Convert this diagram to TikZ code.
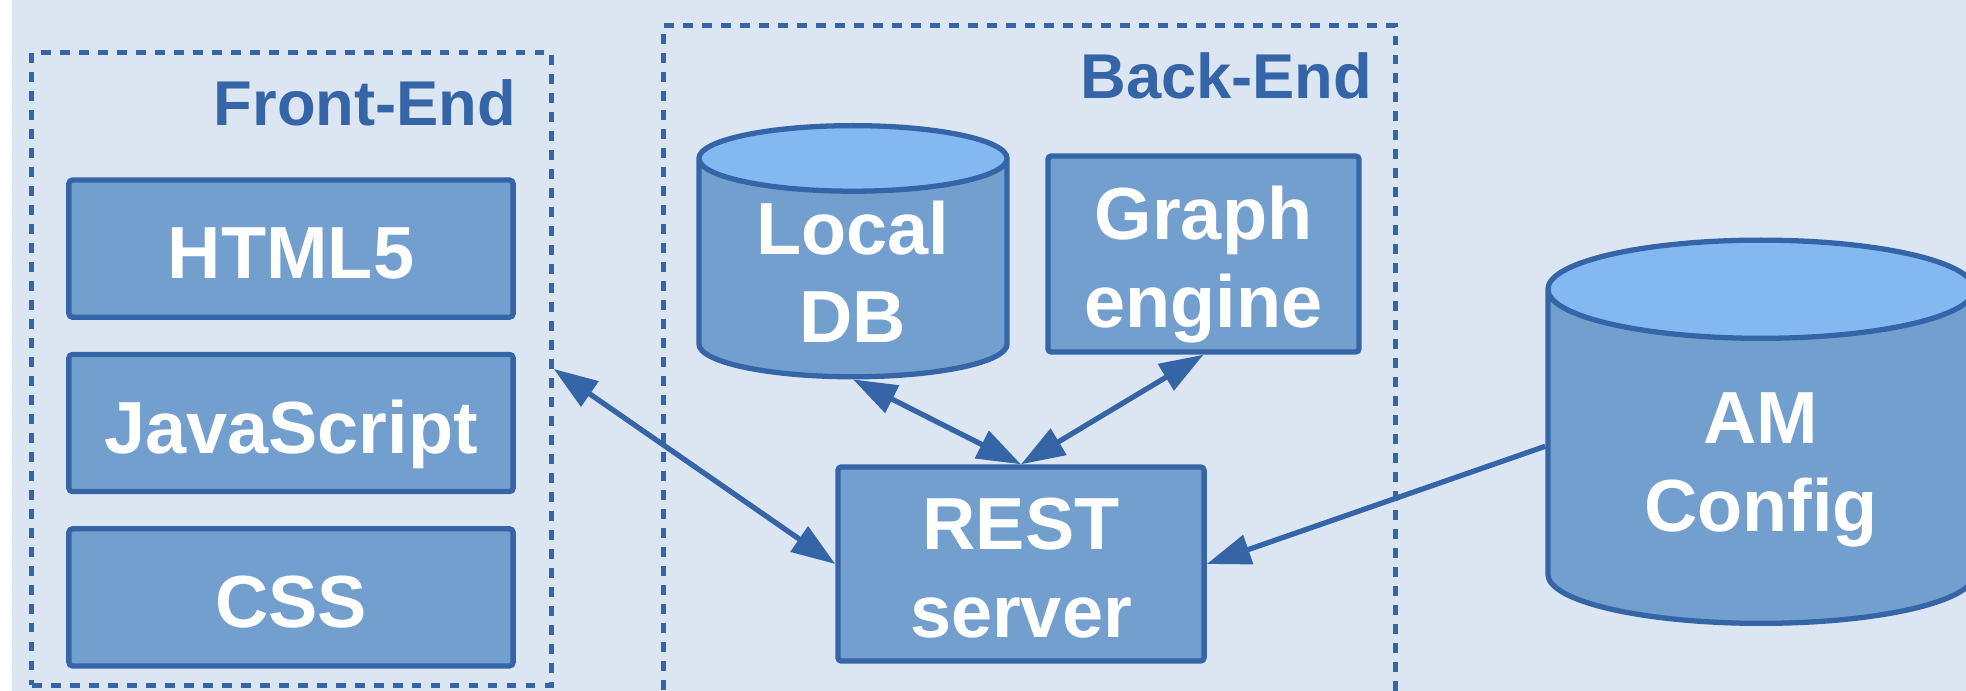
\documentclass[tikz,border=0pt]{standalone}
\usepackage{fontspec}
\setmainfont{Liberation Sans}
\usetikzlibrary{matrix,arrows.meta,shapes.geometric}
\definecolor{pageblue}{RGB}{220,230,242}
\definecolor{boxblue}{RGB}{115,159,207}
\definecolor{edgeblue}{RGB}{53,101,167}
\definecolor{topblue}{RGB}{132,184,240}
\tikzset{
	block/.style={draw=edgeblue, line width=1.5pt, fill=boxblue, text=white, inner sep=0pt, rounded corners=1pt,
		text height=0.6cm, text depth=0pt, font=\bfseries\fontsize{21}{25}\selectfont, align=center},
	store/.style={cylinder, shape border rotate=90, draw=edgeblue, line width=1.5pt,
		cylinder uses custom fill, cylinder body fill=boxblue, cylinder end fill=topblue,
		text=white, inner sep=0pt, text height=0.6cm, text depth=0pt,
		font=\bfseries\fontsize{21}{25}\selectfont, align=center},
	twoline/.style={text height=1.47cm},
	tier/.style={draw=edgeblue, line width=1.5pt, dash pattern=on 2.8pt off 2.6pt},
	tiername/.style={text=edgeblue, inner sep=0pt, font=\bfseries\fontsize{18}{22}\selectfont}
}

\begin{document}
\begin{tikzpicture}[x=0.01cm, y=-0.01cm, >={Triangle[length=12.5pt,width=8.5pt]}]
			\useasboundingbox (0,0) rectangle (1966,691);
			\clip (0,0) rectangle (1966,691);
			\fill[pageblue] (12,0) rectangle (1966,691);

			% tiers
			\node[tier, minimum width=5.19cm, minimum height=6.32cm] (frontend) at (291.5,369) {};
			\node[tier, minimum width=7.31cm, minimum height=6.74cm] (backend) at (1029.5,363) {};
			\node[tiername, anchor=base east] (fename) at (517,126) {Front-End};
			\node[tiername, anchor=base east] (bename) at (1373,99) {Back-End};

			\matrix (fe) [matrix of nodes, inner sep=0pt, row sep=0.32cm,
				nodes={block, minimum width=4.44cm, minimum height=1.37cm}] at (291,423)
			{
				HTML5\\
				JavaScript\\
				CSS\\
			};

			\node[store, twoline, anchor=north, minimum width=3.08cm, minimum height=2.51cm, aspect=0.34] (localdb) at (853,123) {Local\\DB};
			\node[block, twoline, minimum width=3.11cm, minimum height=1.96cm] (graph) at (1203.5,254) {Graph\\engine};
			\node[block, twoline, minimum width=3.66cm, minimum height=1.94cm] (rest) at (1021,564) {REST\\server};
			\node[store, twoline, anchor=north, minimum width=4.26cm, minimum height=3.83cm, aspect=0.42] (amconfig) at (1761,237.5) {AM\\Config};

			\path[color=edgeblue, line width=1.5pt]
			(frontend.east) edge[<->] (rest.west)
			(localdb.south) edge[<->] (rest.north)
			(graph.south) edge[<->] (rest.north)
			(amconfig.177) edge[->] (rest.east);
		\end{tikzpicture}
\end{document}
